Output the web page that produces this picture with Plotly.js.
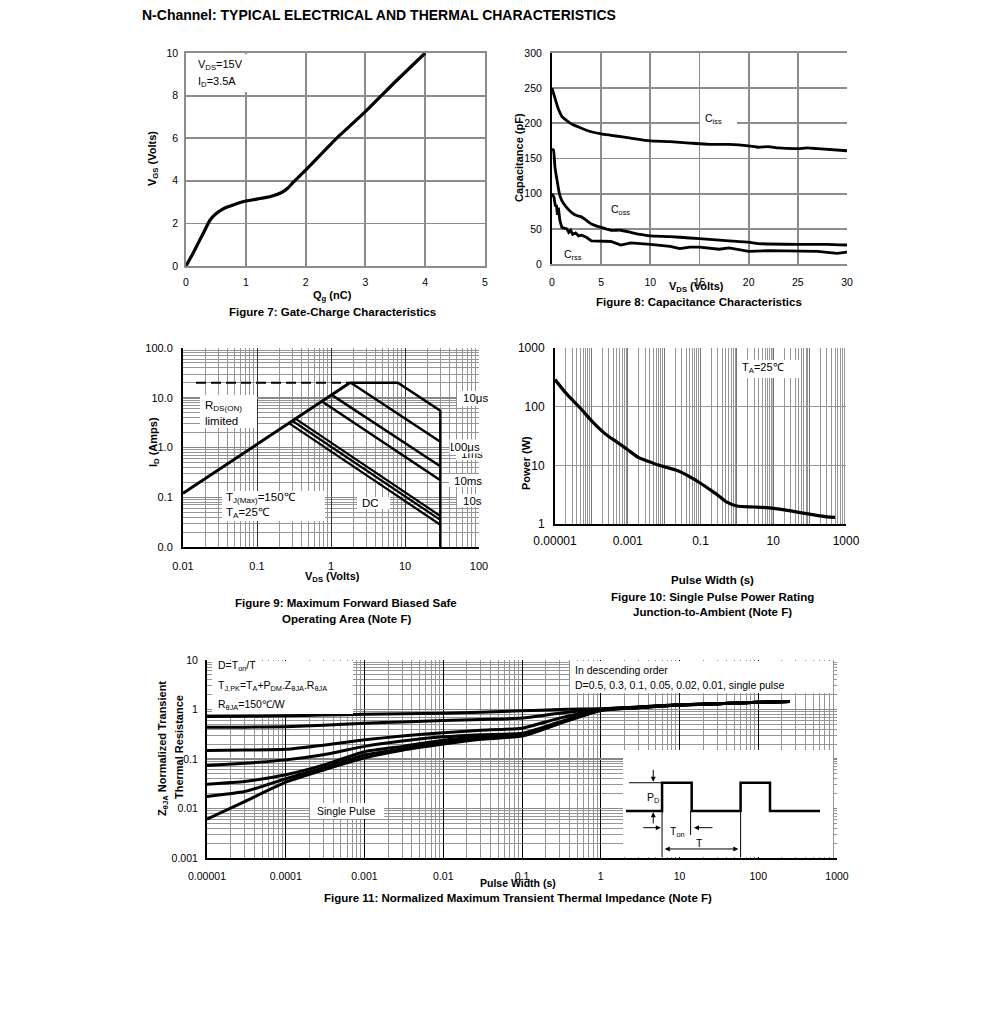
<!DOCTYPE html>
<html><head><meta charset="utf-8">
<script src="https://cdn.plot.ly/plotly-3.0.1.min.js"></script>
<style>html,body{margin:0;padding:0;background:#fff}#chart{width:991px;height:1036px}</style>
</head><body><div id="chart"></div>
<script>
// ================= DATA =================
// Figure 7: Gate charge
const gateQg  = [0, 0.1, 0.2, 0.3, 0.4, 0.5, 0.6, 0.7, 0.8, 1.0, 1.2, 1.4, 1.6, 1.7, 1.8, 2.0, 2.5, 3.0, 3.5, 4.0];
const gateVgs = [0, 0.5, 1.05, 1.6, 2.15, 2.45, 2.65, 2.78, 2.88, 3.05, 3.15, 3.25, 3.45, 3.65, 3.95, 4.5, 5.95, 7.25, 8.65, 10.0];

// Figure 8: Capacitance
const cissV = [0, 0.3, 0.6, 1, 1.5, 2, 3, 4, 5, 6, 7, 8, 10, 12, 14, 16, 18, 20, 21, 22, 23, 25, 26, 27, 30];
const cissC = [250, 236, 222, 210, 204, 199, 193, 188, 185, 183, 181, 179, 175, 174, 172, 170, 170, 168, 166, 167, 165, 164, 165, 164, 161];
const cossV = [0, 0.15, 0.3, 0.5, 0.75, 1, 1.5, 2, 2.5, 3, 3.5, 4, 5, 6, 7, 8, 9, 10, 12, 14, 16, 18, 20, 21, 25, 28, 30];
const cossC = [163, 162, 138, 120, 100, 90, 80, 73, 69, 67, 62, 57, 52, 48, 48, 45, 42, 40, 39, 37, 35, 33, 31, 29, 28, 28, 27];
const crssV = [0, 0.2, 0.35, 0.45, 0.55, 0.65, 0.8, 1, 1.5, 1.7, 1.9, 2.1, 2.4, 2.7, 3, 3.5, 4, 5, 6, 7, 8, 10, 12, 13, 14, 15, 17, 18, 20, 22, 25, 27, 29, 30];
const crssC = [100, 95, 82, 84, 70, 80, 62, 52, 50, 45, 48, 42, 44, 40, 41, 38, 33, 33, 32, 27, 30, 28, 25, 22, 24, 24, 21, 23, 18, 19, 19, 18, 15, 17];

// Figure 9: Safe operating area (VDS, ID)
const rdsLimitV = [0.01, 1.8];   const rdsLimitI = [0.12, 20];
const pulseCapV = [0.015, 1.8];  const pulseCapI = [20, 20];
const soa10usV  = [1.8, 8, 30, 30];  const soa10usI  = [20, 20, 5.5, 0.01];
const soa100usV = [1.85, 30];    const soa100usI = [20, 1.3];
const soa1msV   = [1.02, 30];    const soa1msI   = [11.4, 0.42];
const soa10msV  = [0.75, 30];    const soa10msI  = [8.5, 0.22];
const soa100msV = [0.33, 30];    const soa100msI = [3.8, 0.042];
const soa10sV   = [0.30, 30];    const soa10sI   = [3.45, 0.035];
const soaDcV    = [0.27, 30];    const soaDcI    = [3.1, 0.028];

// Figure 10: Single pulse power
const pwrT = [1e-5, 2e-5, 5e-5, 1e-4, 2e-4, 3e-4, 5e-4, 1e-3, 2e-3, 5e-3, 0.01, 0.02, 0.03, 0.05, 0.1, 0.2, 0.3, 0.5, 1, 3, 10, 30, 100, 300, 500];
const pwrW = [290, 170, 94, 58, 38, 31, 25, 18.4, 13.5, 10.9, 9.5, 8.4, 7.6, 6.4, 4.95, 3.7, 3.1, 2.4, 2.03, 1.95, 1.85, 1.67, 1.47, 1.32, 1.3];

// Figure 11: Normalized transient thermal impedance
const ztT      = [1e-5, 3e-5, 1e-4, 3e-4, 1e-3, 3e-3, 1e-2, 3e-2, 0.1, 0.3, 1, 3, 10, 30, 100, 250];
const ztD05    = [0.72, 0.73, 0.75, 0.77, 0.80, 0.82, 0.84, 0.88, 0.94, 1.00, 1.04, 1.12, 1.25, 1.30, 1.40, 1.45];
const ztD03    = [0.44, 0.44, 0.45, 0.48, 0.53, 0.56, 0.60, 0.63, 0.67, 0.84, 1.02, 1.12, 1.25, 1.30, 1.40, 1.45];
const ztD01    = [0.148, 0.152, 0.157, 0.19, 0.245, 0.29, 0.34, 0.38, 0.42, 0.67, 1.00, 1.11, 1.24, 1.30, 1.40, 1.45];
const ztD005   = [0.074, 0.082, 0.096, 0.122, 0.18, 0.23, 0.28, 0.31, 0.33, 0.56, 0.98, 1.10, 1.24, 1.30, 1.40, 1.45];
const ztD002   = [0.031, 0.035, 0.048, 0.075, 0.14, 0.18, 0.24, 0.28, 0.31, 0.54, 0.97, 1.10, 1.23, 1.30, 1.40, 1.45];
const ztD001   = [0.0175, 0.022, 0.040, 0.066, 0.12, 0.16, 0.22, 0.26, 0.30, 0.53, 0.96, 1.09, 1.23, 1.30, 1.40, 1.45];
const ztSingle = [0.0061, 0.0138, 0.034, 0.060, 0.105, 0.15, 0.20, 0.25, 0.29, 0.52, 0.95, 1.09, 1.23, 1.30, 1.40, 1.45];

// Inset pulse diagram (inset units 0-100)
const pulseX = [1.4, 18.6, 18.6, 32.7, 32.7, 56, 56, 70, 70, 93.8];
const pulseY = [43, 43, 69.4, 69.4, 43, 43, 69.4, 69.4, 43, 43];

// Tick labels
const soaVTicks = [0.01, 0.1, 1, 10, 100];
const soaVText  = ['0.01', '0.1', '1', '10', '100'];
const soaITicks = [0.01, 0.1, 1, 10, 100];
const soaIText  = ['0.0', '0.1', '1.0', '10.0', '100.0'];
const pwrTTicks = [1e-5, 1e-4, 1e-3, 1e-2, 0.1, 1, 10, 100, 1000];
const pwrTText  = ['0.00001', ' ', '0.001', ' ', '0.1', ' ', '10', ' ', '1000'];
const pwrWTicks = [1, 10, 100, 1000];
const pwrWText  = ['1', '10', '100', '1000'];
const ztTTicks  = [1e-5, 1e-4, 1e-3, 1e-2, 0.1, 1, 10, 100, 1000];
const ztTText   = ['0.00001', '0.0001', '0.001', '0.01', '0.1', '1', '10', '100', '1000'];
const ztZTicks  = [0.001, 0.01, 0.1, 1, 10];
const ztZText   = ['0.001', '0.01', '0.1', '1', '10'];

// ================= LAYOUT HELPERS =================
const W = 991, H = 1036;
const FONT = 'Liberation Sans, Arial, sans-serif';
const px = v => v / W;
const py = v => 1 - v / H;
const domX = (a, b) => [a / W, b / W];
const domY = (top, bottom) => [1 - bottom / H, 1 - top / H];
function logMinor(lo, hi) {
  const out = [];
  for (let e = lo; e < hi; e++) for (let m = 2; m <= 9; m++) out.push(m * Math.pow(10, e));
  return out;
}
const GRID = '#959595';
const GRID_LIN = '#8c8c8c';

function linAxis(extra) {
  return Object.assign({
    showgrid: true, gridcolor: GRID_LIN, gridwidth: 1.8, zeroline: false,
    showline: true, linecolor: GRID_LIN, linewidth: 1.8, mirror: true,
    ticks: '', tickfont: { family: FONT, size: 10.5, color: '#000' }, fixedrange: true
  }, extra);
}
function logAxis(extra) {
  return Object.assign({
    type: 'log', tickmode: 'array', showgrid: true, gridwidth: 1, zeroline: false,
    showline: true, linecolor: '#000', linewidth: 2, mirror: false,
    ticks: '', tickfont: { family: FONT, size: 10.5, color: '#000' }, fixedrange: true
  }, extra);
}

function txt(t, x, y, o) {
  return Object.assign({
    text: t, xref: 'paper', yref: 'paper', x: px(x), y: py(y), showarrow: false,
    xanchor: 'left', yanchor: 'middle', font: { family: FONT, size: 10, color: '#000' }
  }, o || {});
}
function ctr(t, x, y, o) { return txt(t, x, y, Object.assign({ xanchor: 'center' }, o || {})); }
function bold(t, x, y, size, o) { return ctr('<b>' + t + '</b>', x, y, Object.assign({ font: { family: FONT, size: size || 10.5, color: '#000' } }, o || {})); }
function box(x0, y0, x1, y1) {
  return { type: 'rect', xref: 'paper', yref: 'paper', x0: px(x0), x1: px(x1), y0: py(y1), y1: py(y0),
           fillcolor: '#fff', line: { width: 0 }, layer: 'above' };
}

// ================= TRACES =================
const L = (x, y, xa, ya, extra) => Object.assign({
  x: x, y: y, xaxis: xa, yaxis: ya, mode: 'lines', hoverinfo: 'skip',
  line: { color: '#000', width: 3 }
}, extra || {});

const traces = [
  L(gateQg, gateVgs, 'x', 'y', { line: { color: '#000', width: 3.2, shape: 'spline', smoothing: 0.5 } }),

  L(cissV, cissC, 'x2', 'y2', { line: { color: '#000', width: 2.8, shape: 'spline', smoothing: 0.4 } }),
  L(cossV, cossC, 'x2', 'y2', { line: { color: '#000', width: 2.8, shape: 'spline', smoothing: 0.4 } }),
  L(crssV, crssC, 'x2', 'y2', { line: { color: '#000', width: 2.8 } }),

  L(pulseCapV, pulseCapI, 'x3', 'y3', { line: { color: '#000', width: 2, dash: '10px,5px' } }),
  L(rdsLimitV, rdsLimitI, 'x3', 'y3', { line: { color: '#000', width: 3 } }),
  L(soa10usV, soa10usI, 'x3', 'y3', { line: { color: '#000', width: 2.5 } }),
  L(soa100usV, soa100usI, 'x3', 'y3', { line: { color: '#000', width: 2.5 } }),
  L(soa1msV, soa1msI, 'x3', 'y3', { line: { color: '#000', width: 2.5 } }),
  L(soa10msV, soa10msI, 'x3', 'y3', { line: { color: '#000', width: 2.5 } }),
  L(soa100msV, soa100msI, 'x3', 'y3', { line: { color: '#000', width: 2.2 } }),
  L(soa10sV, soa10sI, 'x3', 'y3', { line: { color: '#000', width: 2.2 } }),
  L(soaDcV, soaDcI, 'x3', 'y3', { line: { color: '#000', width: 2.2 } }),

  L(pwrT, pwrW, 'x4', 'y4', { line: { color: '#000', width: 3.2, shape: 'spline', smoothing: 0.6 } }),

  L(ztT, ztSingle, 'x5', 'y5', { line: { color: '#000', width: 3, shape: 'spline', smoothing: 0.5 } }),
  L(ztT, ztD001, 'x5', 'y5', { line: { color: '#000', width: 3, shape: 'spline', smoothing: 0.5 } }),
  L(ztT, ztD002, 'x5', 'y5', { line: { color: '#000', width: 3, shape: 'spline', smoothing: 0.5 } }),
  L(ztT, ztD005, 'x5', 'y5', { line: { color: '#000', width: 3, shape: 'spline', smoothing: 0.5 } }),
  L(ztT, ztD01, 'x5', 'y5', { line: { color: '#000', width: 3, shape: 'spline', smoothing: 0.5 } }),
  L(ztT, ztD03, 'x5', 'y5', { line: { color: '#000', width: 3, shape: 'spline', smoothing: 0.5 } }),
  L(ztT, ztD05, 'x5', 'y5', { line: { color: '#000', width: 3, shape: 'spline', smoothing: 0.5 } }),

  L(pulseX, pulseY, 'x6', 'y6', { line: { color: '#000', width: 2.5 } })
];

// ================= SHAPES =================
const shapes = [
  // Fig 10 black decade line at 10 s
  { type: 'line', xref: 'x4', yref: 'y4 domain', x0: 10, x1: 10, y0: 0, y1: 1, line: { color: '#000', width: 1 }, layer: 'below' },
  // inset thin reference lines
  { type: 'line', xref: 'x6', yref: 'y6', x0: 2.9, x1: 18.6, y0: 69.4, y1: 69.4, line: { color: '#000', width: 1 } },
  { type: 'line', xref: 'x6', yref: 'y6', x0: 18.6, x1: 18.6, y0: 0, y1: 69.4, line: { color: '#000', width: 1 } },
  { type: 'line', xref: 'x6', yref: 'y6', x0: 32.2, x1: 32.2, y0: 20.6, y1: 43, line: { color: '#000', width: 1 } },
  { type: 'line', xref: 'x6', yref: 'y6', x0: 56, x1: 56, y0: 0, y1: 43, line: { color: '#000', width: 1 } },
  // white label boxes
  box(187, 54, 292, 92),      // fig7 conditions
  box(700, 112, 737, 127),    // Ciss
  box(200, 395, 257, 428),    // RDS(on) limited
  box(222, 491, 325, 521),    // TJ / TA
  box(357, 497, 390, 509),    // DC
  box(457, 391, 480, 406),    // 10us
  box(456, 447, 480, 460),    // 1ms
  box(449, 474, 480, 487),    // 10ms
  box(457, 494, 480, 507),    // 10s
  box(737, 360, 800, 378),    // TA=25
  box(212, 661, 353, 714),    // fig11 formula box
  box(570, 661, 833, 693),    // descending order box
  box(310, 803, 384, 819)     // Single Pulse
];

// ================= ANNOTATIONS =================
const arrowAnn = (x, y, ax, ay, side) => ({
  xref: 'x6', yref: 'y6', axref: 'x6', ayref: 'y6', x: x, y: y, ax: ax, ay: ay, text: '',
  showarrow: true, arrowhead: 2, arrowsize: 1, arrowwidth: 1, arrowcolor: '#000', arrowside: side || 'end',
  standoff: 0, startstandoff: 0
});
const insetTxt = (t, x, y) => ({ xref: 'x6', yref: 'y6', x: x, y: y, text: t, showarrow: false,
  xanchor: 'center', yanchor: 'middle', font: { family: FONT, size: 10.5, color: '#000' } });

const CAP = 11.5;
const annotations = [
  // main title
  txt('<b>N-Channel: TYPICAL ELECTRICAL AND THERMAL CHARACTERISTICS</b>', 140, 15, { font: { family: FONT, size: 14, color: '#000' } }),

  // Fig 7
  txt('V<sub>DS</sub>=15V', 196, 65, { font: { family: FONT, size: 11, color: '#000' } }),
  txt('I<sub>D</sub>=3.5A', 196, 82, { font: { family: FONT, size: 11, color: '#000' } }),
  bold('Q<sub>g</sub> (nC)', 332, 296, 11),
  bold('V<sub>GS</sub> (Volts)', 153, 159, 11, { textangle: -90 }),
  bold('Figure 7: Gate-Charge Characteristics', 332, 312, CAP),

  // Fig 8
  ctr('C<sub>iss</sub>', 713, 119, { font: { family: FONT, size: 10.5, color: '#000' } }),
  ctr('C<sub>oss</sub>', 620, 210, { font: { family: FONT, size: 10.5, color: '#000' } }),
  ctr('C<sub>rss</sub>', 573, 255, { font: { family: FONT, size: 10.5, color: '#000' } }),
  bold('V<sub>DS</sub> (Volts)', 696, 287, 11),
  bold('Capacitance (pF)', 519, 158, 11, { textangle: -90 }),
  bold('Figure 8: Capacitance Characteristics', 699, 302, CAP),

  // Fig 9
  txt('R<sub>DS(ON)</sub>', 203, 406, { font: { family: FONT, size: 11.5, color: '#000' } }),
  txt('limited', 203, 421, { font: { family: FONT, size: 11.5, color: '#000' } }),
  txt('T<sub>J(Max)</sub>=150℃', 224, 498, { font: { family: FONT, size: 11.5, color: '#000' } }),
  txt('T<sub>A</sub>=25℃', 224, 513, { font: { family: FONT, size: 11.5, color: '#000' } }),
  txt('DC', 360, 503, { font: { family: FONT, size: 11.5, color: '#000' } }),
  txt('10μs', 461, 398, { font: { family: FONT, size: 11.5, color: '#000' } }),
  txt('1ms', 459, 454, { font: { family: FONT, size: 11.5, color: '#000' } }),
  { text: '100μs', xref: 'paper', yref: 'paper', x: px(449), y: py(439), xanchor: 'left', yanchor: 'top',
    showarrow: false, bgcolor: '#fff', width: 29, height: 11, borderpad: 1, align: 'right', valign: 'middle',
    font: { family: FONT, size: 11.5, color: '#000' } },
  txt('10ms', 452, 481, { font: { family: FONT, size: 11.5, color: '#000' } }),
  txt('10s', 461, 501, { font: { family: FONT, size: 11.5, color: '#000' } }),
  bold('V<sub>DS</sub> (Volts)', 332, 577, 11),
  bold('I<sub>D</sub> (Amps)', 154, 442, 11, { textangle: -90 }),
  bold('Figure 9: Maximum Forward Biased Safe', 346, 603, CAP),
  bold('Operating Area (Note F)', 346, 619, CAP),

  // Fig 10
  txt('T<sub>A</sub>=25℃', 740, 368, { font: { family: FONT, size: 11, color: '#000' } }),
  bold('Pulse Width (s)', 712, 580, 11.5),
  bold('Power (W)', 526, 463, 11, { textangle: -90 }),
  bold('Figure 10: Single Pulse Power Rating', 712, 597, CAP),
  bold('Junction-to-Ambient (Note F)', 712, 612, CAP),

  // Fig 11
  txt('D=T<sub>on</sub>/T', 216, 666, { font: { family: FONT, size: 10.5, color: '#000' } }),
  txt('T<sub>J,PK</sub>=T<sub>A</sub>+P<sub>DM</sub>.Z<sub>θJA</sub>.R<sub>θJA</sub>', 216, 686, { font: { family: FONT, size: 10.5, color: '#000' } }),
  txt('R<sub>θJA</sub>=150℃/W', 216, 705, { font: { family: FONT, size: 10.5, color: '#000' } }),
  txt('In descending order', 573, 670, { font: { family: FONT, size: 10.5, color: '#000' } }),
  txt('D=0.5, 0.3, 0.1, 0.05, 0.02, 0.01, single pulse', 573, 685, { font: { family: FONT, size: 10.5, color: '#000' } }),
  ctr('Single Pulse', 346, 811, { font: { family: FONT, size: 10.5, color: '#000' } }),
  bold('Pulse Width (s)', 518, 883, 10.5),
  bold('Z<sub>θJA</sub> Normalized Transient', 163, 749, 11, { textangle: -90 }),
  bold('Thermal Resistance', 179, 747, 11, { textangle: -90 }),
  bold('Figure 11: Normalized Maximum Transient Thermal Impedance (Note F)', 518, 898, CAP),

  // inset diagram
  arrowAnn(14.4, 70.3, 14.4, 82.9),
  arrowAnn(14.4, 41.8, 14.4, 29.9),
  arrowAnn(18.0, 27.4, 8.9, 27.4),
  arrowAnn(33.8, 27.4, 43.3, 27.4),
  arrowAnn(54.9, 7.5, 19.2, 7.5, 'end+start'),
  insetTxt('P<sub>D</sub>', 14.4, 54.9),
  insetTxt('T<sub>on</sub>', 25.9, 23.6),
  insetTxt('T', 36.3, 12.8)
];

// ================= LAYOUT =================
const layout = {
  width: W, height: H, margin: { l: 0, r: 0, t: 0, b: 0 },
  paper_bgcolor: '#fff', plot_bgcolor: '#fff', showlegend: false, hovermode: false,
  font: { family: FONT, size: 10, color: '#000' },

  xaxis:  linAxis({ domain: domX(186, 485), anchor: 'y', range: [0, 5], tick0: 0, dtick: 1, ticklabelstandoff: 6 }),
  yaxis:  linAxis({ domain: domY(53, 266), anchor: 'x', range: [0, 10], tick0: 0, dtick: 2, ticklabelstandoff: 4 }),

  xaxis2: linAxis({ domain: domX(552, 847), anchor: 'y2', range: [0, 30], tick0: 0, dtick: 5, ticklabelstandoff: 8 }),
  yaxis2: linAxis({ domain: domY(53, 264), anchor: 'x2', range: [0, 300], tick0: 0, dtick: 50, mirror: false,
                    linecolor: '#000', linewidth: 2, ticklabelstandoff: 6 }),

  xaxis3: logAxis({ domain: domX(183, 479), anchor: 'y3', range: [-2, 2], tickvals: soaVTicks, ticktext: soaVText,
                    gridcolor: '#333', tickfont: { family: FONT, size: 11, color: '#000' }, ticklabelstandoff: 8,
                    minor: { tickvals: logMinor(-2, 2), showgrid: true, gridcolor: GRID, gridwidth: 1, ticks: '' } }),
  yaxis3: logAxis({ domain: domY(348, 547), anchor: 'x3', range: [-2, 2], tickvals: soaITicks, ticktext: soaIText,
                    gridcolor: '#888', gridwidth: 1.5, tickfont: { family: FONT, size: 11, color: '#000' }, ticklabelstandoff: 6,
                    minor: { tickvals: logMinor(-2, 2), showgrid: true, gridcolor: GRID, gridwidth: 1, ticks: '' } }),

  xaxis4: logAxis({ domain: domX(555, 846), anchor: 'y4', range: [-5, 3], tickvals: pwrTTicks, ticktext: pwrTText,
                    gridcolor: '#777', tickfont: { family: FONT, size: 12, color: '#000' }, ticklabelstandoff: 5,
                    minor: { tickvals: logMinor(-5, 3), showgrid: true, gridcolor: GRID, gridwidth: 1, ticks: '' } }),
  yaxis4: logAxis({ domain: domY(348, 524), anchor: 'x4', range: [0, 3], tickvals: pwrWTicks, ticktext: pwrWText,
                    gridcolor: GRID, gridwidth: 1.5, tickfont: { family: FONT, size: 12, color: '#000' }, ticklabelstandoff: 6 }),

  xaxis5: logAxis({ domain: domX(207, 837), anchor: 'y5', range: [-5, 3], tickvals: ztTTicks, ticktext: ztTText,
                    gridcolor: '#000', tickfont: { family: FONT, size: 10.5, color: '#000' }, ticklabelstandoff: 7,
                    minor: { tickvals: logMinor(-5, 3), showgrid: true, gridcolor: GRID, gridwidth: 1, ticks: '' } }),
  yaxis5: logAxis({ domain: domY(660, 858), anchor: 'x5', range: [-3, 1], tickvals: ztZTicks, ticktext: ztZText,
                    gridcolor: '#888', gridwidth: 1.2, tickfont: { family: FONT, size: 10.5, color: '#000' }, ticklabelstandoff: 5,
                    minor: { tickvals: logMinor(-3, 1), showgrid: true, gridcolor: GRID, gridwidth: 1, ticks: '' } }),

  xaxis6: { domain: domX(623, 833), anchor: 'y6', range: [0, 100], showgrid: false, zeroline: false, showline: false,
            showticklabels: false, ticks: '', fixedrange: true },
  yaxis6: { domain: domY(750, 857), anchor: 'x6', range: [0, 100], showgrid: false, zeroline: false, showline: false,
            showticklabels: false, ticks: '', fixedrange: true },

  shapes: shapes,
  annotations: annotations
};

Plotly.newPlot('chart', traces, layout, { staticPlot: true, displayModeBar: false });
</script>
</body></html>
